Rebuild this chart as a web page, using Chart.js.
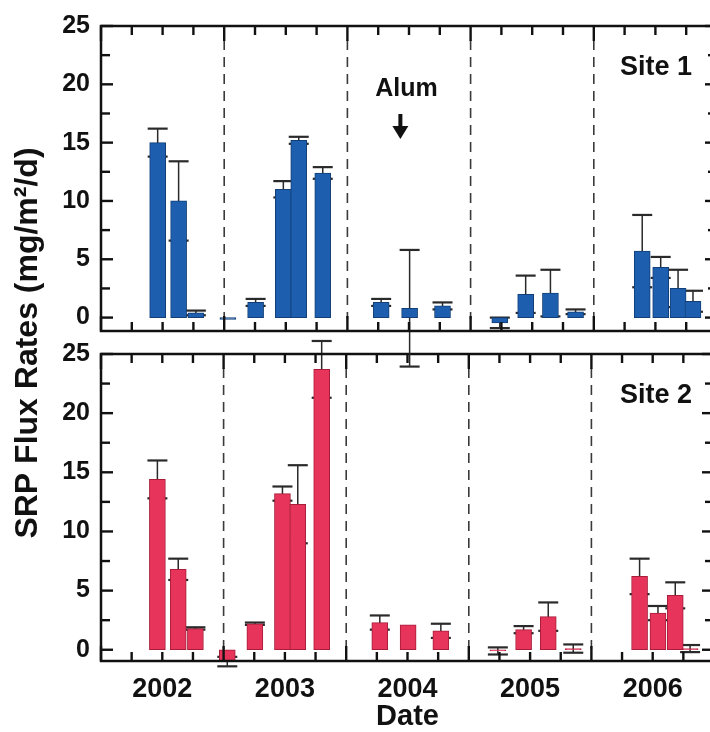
<!DOCTYPE html>
<html><head><meta charset="utf-8">
<script src="https://cdn.jsdelivr.net/npm/chart.js@4.4.1/dist/chart.umd.min.js"></script>
<style>
html,body{margin:0;padding:0;background:#fff;overflow:hidden;width:710px;height:732px}
#wrap{position:relative;width:710px;height:732px;overflow:hidden;background:#fff}
canvas{position:absolute;left:0;top:0}
</style></head><body>
<div id="wrap"><canvas id="c2" width="717" height="732"></canvas><canvas id="c1" width="717" height="732"></canvas></div>
<script>
// ---- data (sampling dates as decimal years) ----
const yearLabels = ['2002', '2003', '2004', '2005', '2006'];
const yearBoundaries = [2003, 2004, 2005, 2006];
const alumDate = 2004.43;

const sampleDates = [2002.46, 2002.63, 2002.77, 2003.03, 2003.255, 2003.48, 2003.605, 2003.80, 2004.274, 2004.505, 2004.772, 2005.237, 2005.447, 2005.648, 2005.852, 2006.393, 2006.543, 2006.684, 2006.805];

const site1Flux  = [15.0, 10.0, 0.4, -0.15, 1.3, 11.0, 15.2, 12.4, 1.3, 0.8, 1.0, -0.45, 2.0, 2.1, 0.5, 5.7, 4.3, 2.5, 1.4];
const site1Err   = [1.2, 3.4, 0.2, 0, 0.3, 0.7, 0.3, 0.5, 0.3, 5.0, 0.3, 0.45, 1.6, 2.0, 0.2, 3.1, 0.9, 1.6, 0.9];

const site2Flux  = [14.4, 6.8, 1.8, -1.0, 2.2, 13.2, 12.3, 23.7, 2.3, 2.1, 1.6, -0.1, 1.7, 2.8, 0.1, 6.2, 3.1, 4.6, 0.1];
const site2Err   = [1.6, 0.9, 0.1, 0.4, 0.1, 0.6, 3.3, 2.4, 0.6, 0, 0.6, 0.3, 0.3, 1.2, 0.35, 1.5, 0.6, 1.1, 0.3];

const FONT = "'Liberation Sans', Arial, Helvetica, sans-serif";
Chart.defaults.font.family = FONT;
Chart.defaults.font.weight = 'bold';
Chart.defaults.color = '#111';

function line(ctx, x1, y1, x2, y2) { ctx.beginPath(); ctx.moveTo(x1, y1); ctx.lineTo(x2, y2); ctx.stroke(); }

const framePlugin = {
  id: 'frame',
  beforeDatasetsDraw(chart, args, o) {
    const {ctx, chartArea: a, scales: {x, y}} = chart;
    ctx.save();
    // dashed year separators
    ctx.strokeStyle = '#3a3a3a'; ctx.lineWidth = 1.6; ctx.setLineDash([10, 7]);
    yearBoundaries.forEach(v => { const px = x.getPixelForValue(v); line(ctx, px, a.top + 14, px, a.bottom - 12); });
    ctx.setLineDash([]);
    // error bars (drawn behind the bars)
    const meta = chart.getDatasetMeta(0);
    ctx.strokeStyle = '#2a2a2a';
    meta.data.forEach((bar, i) => {
      const e = o.err[i], v = o.vals[i];
      if (!e) return;
      const yHi = y.getPixelForValue(v + e), yLo = y.getPixelForValue(v - e);
      ctx.lineWidth = 1.5; line(ctx, bar.x, yHi, bar.x, yLo);
      ctx.lineWidth = 2.2; line(ctx, bar.x - 10, yHi, bar.x + 10, yHi); line(ctx, bar.x - 10, yLo, bar.x + 10, yLo);
    });
    ctx.restore();
  },
  afterDatasetsDraw(chart) {
    const {ctx, chartArea: a, scales: {x, y}} = chart;
    ctx.save();
    ctx.strokeStyle = '#111'; ctx.lineWidth = 2.5;
    ctx.strokeRect(a.left, a.top, a.right - a.left, a.bottom - a.top);
    ctx.lineWidth = 2.4;
    for (let q = Math.ceil(x.min * 4); q <= Math.floor(x.max * 4); q++) {
      const v = q / 4, px = x.getPixelForValue(v);
      const len = (q % 4 === 0) ? 15 : 9;
      line(ctx, px, a.top, px, a.top + len);
      line(ctx, px, a.bottom, px, a.bottom - len);
    }
    for (let s = Math.ceil(y.min / 2.5); s <= Math.floor(y.max / 2.5 + 1e-9); s++) {
      const py = y.getPixelForValue(s * 2.5);
      const len = (s % 2 === 0) ? 12 : 9;
      line(ctx, a.left, py, a.left + len, py);
      line(ctx, a.right, py, a.right - len, py);
    }
    ctx.restore();
  }
};

const labelPlugin = {
  id: 'labels',
  afterDraw(chart, args, o) {
    const {ctx, chartArea: a, scales: {x}} = chart;
    ctx.save();
    ctx.fillStyle = '#111';
    ctx.font = `bold 27px ${FONT}`; ctx.textAlign = 'right'; ctx.textBaseline = 'middle';
    ctx.fillText(o.site, 692, a.top + 42);
    if (o.alum) {
      const px = x.getPixelForValue(alumDate);
      ctx.font = `bold 25px ${FONT}`; ctx.textAlign = 'center';
      ctx.fillText(o.alum, px + 6, a.top + 63);
      ctx.fillRect(px - 2, a.top + 88, 4, 14);
      ctx.beginPath(); ctx.moveTo(px - 8, a.top + 100); ctx.lineTo(px + 8, a.top + 100); ctx.lineTo(px, a.top + 113); ctx.closePath(); ctx.fill();
    }
    if (o.yTitle) {
      ctx.translate(28, 343); ctx.rotate(-Math.PI / 2);
      ctx.font = `bold 32px ${FONT}`; ctx.textAlign = 'center'; ctx.textBaseline = 'middle';
      ctx.fillText(o.yTitle, 0, 0);
    }
    ctx.restore();
  }
};

function makeChart(id, vals, errs, fill, edge, opts) {
  return new Chart(document.getElementById(id), {
    type: 'bar',
    data: { datasets: [{
      data: sampleDates.map((d, i) => ({x: d, y: vals[i]})),
      backgroundColor: fill, borderColor: edge, borderWidth: 1, borderSkipped: false,
      barThickness: 16
    }]},
    options: {
      responsive: false, animation: false, devicePixelRatio: 1,
      layout: { padding: { top: opts.padTop, bottom: opts.padBottom, left: 0, right: opts.padRight } },
      plugins: { legend: {display: false}, tooltip: {enabled: false},
        frame: { vals: vals, err: errs },
        labels: { site: opts.site, alum: opts.alum, yTitle: opts.yTitle } },
      scales: {
        x: {
          type: 'linear', min: 2002, max: 2007, offset: false,
          grid: {display: false, drawTicks: false, offset: false}, border: {display: false},
          ticks: { display: opts.showX, stepSize: 0.25, autoSkip: false, maxRotation: 0, padding: 12,
            font: {size: 27, weight: 'bold'}, color: '#111',
            callback: v => { const f = v - Math.floor(v); return Math.abs(f - 0.5) < 1e-6 ? (yearLabels[Math.floor(v) - 2002] || '') : ''; } },
          title: { display: opts.showX, text: 'Date', font: {size: 29, weight: 'bold'}, color: '#111', padding: {top: 0, bottom: -2} },
          afterFit: s => { s.height = opts.showX ? 71 : 0; s.paddingLeft = 0; s.paddingRight = 0; }
        },
        y: {
          type: 'linear', min: opts.ymin, max: 25,
          grid: {display: false, drawTicks: false}, border: {display: false},
          ticks: { stepSize: 2.5, includeBounds: false, autoSkip: false, padding: 11, font: {size: 25, weight: 'bold'}, color: '#111',
            callback: v => { const r = Math.round(v / 5) * 5; return Math.abs(v - r) < 1e-6 ? String(r) : ''; } },
          afterFit: s => { s.width = 101; }
        }
      }
    },
    plugins: [framePlugin, labelPlugin]
  });
}

makeChart('c1', site1Flux, site1Err, '#1d5fae', '#123f78',
  { padTop: 22, padBottom: 401, padRight: 0, showX: false, ymin: -1.15, site: 'Site 1', alum: 'Alum', yTitle: null });
makeChart('c2', site2Flux, site2Err, '#e6345a', '#a81d3a',
  { padTop: 354, padBottom: 0, padRight: 3, showX: true, ymin: -0.95, site: 'Site 2', alum: null, yTitle: 'SRP Flux Rates (mg/m²/d)' });
</script>
</body></html>
